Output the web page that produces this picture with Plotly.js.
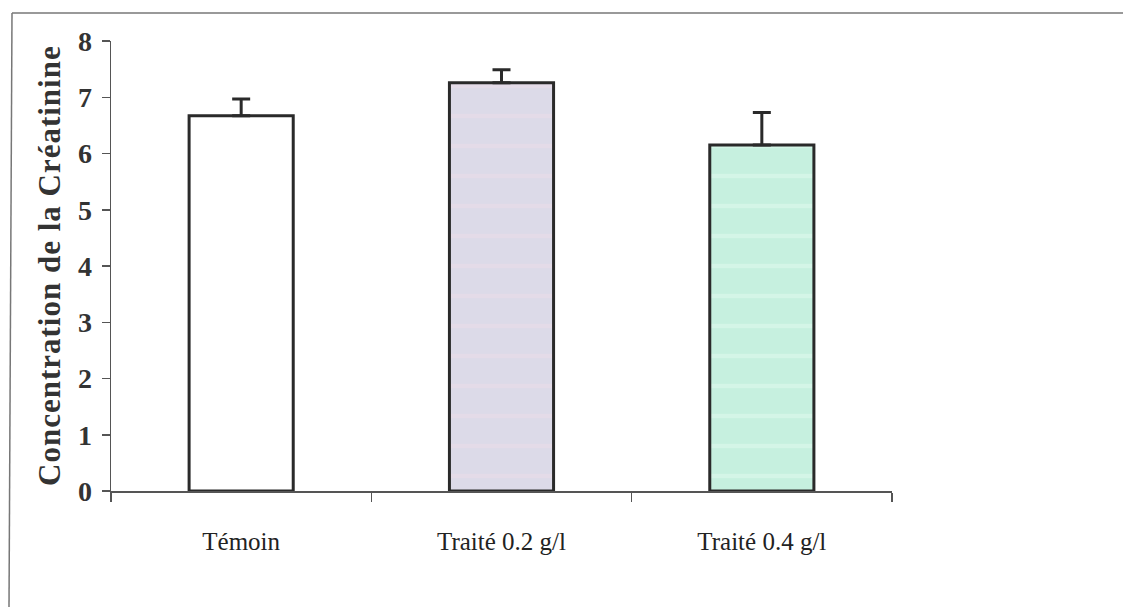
<!DOCTYPE html>
<html>
<head>
<meta charset="utf-8">
<script src="https://cdn.plot.ly/plotly-3.0.1.min.js"></script>
<style>
  html, body { margin: 0; padding: 0; background: #fff; }
  #chart { width: 1123px; height: 607px; }
  .annotation-text { letter-spacing: 1px; }
</style>
</head>
<body>
<div id="chart"></div>
<script>
// ---- data ----
const categories = ["Témoin", "Traité 0.2 g/l", "Traité 0.4 g/l"];
const values = [6.67, 7.26, 6.15];
const errorsUp = [0.30, 0.23, 0.58];
const yTickValues = [0, 1, 2, 3, 4, 5, 6, 7, 8];
const yTitle = "Concentration de la Créatinine";

// ---- styles ----
const fillColors = ["#ffffff", "#dcdae8", "#c6f0df"];
const stripeColors = ["#ffffff", "#ecdce8", "#e2f9ef"];
const patternShapes = ["", "-", "-"];
const ink = "#2a2a2a";
const serif = "'Liberation Serif', 'Times New Roman', serif";

const traces = categories.map((cat, i) => ({
  type: "bar",
  x: [cat],
  y: [values[i]],
  width: 0.4,
  marker: {
    color: fillColors[i],
    line: { color: ink, width: 3 },
    pattern: {
      shape: patternShapes[i],
      fillmode: "overlay",
      fgcolor: stripeColors[i],
      bgcolor: fillColors[i],
      size: 30,
      solidity: 0.14
    }
  },
  error_y: {
    type: "data",
    symmetric: false,
    array: [errorsUp[i]],
    arrayminus: [0],
    color: ink,
    thickness: 3,
    width: 9
  },
  hoverinfo: "skip"
}));

const layout = {
  width: 1123,
  height: 607,
  margin: { l: 111, r: 231, t: 41, b: 116 },
  paper_bgcolor: "#ffffff",
  plot_bgcolor: "rgba(0,0,0,0)",
  showlegend: false,
  barmode: "overlay",
  xaxis: {
    type: "category",
    categoryorder: "array",
    categoryarray: categories,
    range: [-0.5, 2.5],
    showgrid: false,
    zeroline: false,
    showline: true,
    linecolor: "#555",
    linewidth: 1.5,
    ticks: "outside",
    tickson: "boundaries",
    ticklen: 9,
    tickwidth: 1.5,
    tickcolor: "#555",
    ticklabelstandoff: 27,
    tickfont: { family: serif, size: 25, color: "#222" },
    fixedrange: true
  },
  yaxis: {
    range: [0, 8],
    tickvals: yTickValues,
    ticktext: yTickValues.map(String),
    showgrid: false,
    zeroline: false,
    showline: true,
    linecolor: "#555",
    linewidth: 1.5,
    ticks: "outside",
    ticklen: 8,
    tickwidth: 1.5,
    tickcolor: "#555",
    ticklabelstandoff: 4,
    tickfont: { family: serif, size: 28, color: "#333", weight: "bold" },
    fixedrange: true
  },
  annotations: [{
    text: "<b>" + yTitle + "</b>",
    xref: "paper", yref: "paper",
    x: (49 - 111) / 781, y: 0.5,
    xanchor: "center", yanchor: "middle",
    textangle: -90,
    showarrow: false,
    font: { family: serif, size: 31, color: "#333" }
  }],
  shapes: [
    { type: "line", xref: "paper", yref: "paper",
      x0: (12 - 111) / 781, x1: (9 - 111) / 781,
      y0: 1 - (13 - 41) / 450, y1: 1 - (607 - 41) / 450,
      line: { color: "#777", width: 1.5 } },
    { type: "line", xref: "paper", yref: "paper",
      x0: (12 - 111) / 781, x1: (1123 - 111) / 781,
      y0: 1 - (13 - 41) / 450, y1: 1 - (13 - 41) / 450,
      line: { color: "#777", width: 1.5 } }
  ]
};

Plotly.newPlot("chart", traces, layout, { displayModeBar: false, staticPlot: true });
</script>
</body>
</html>
